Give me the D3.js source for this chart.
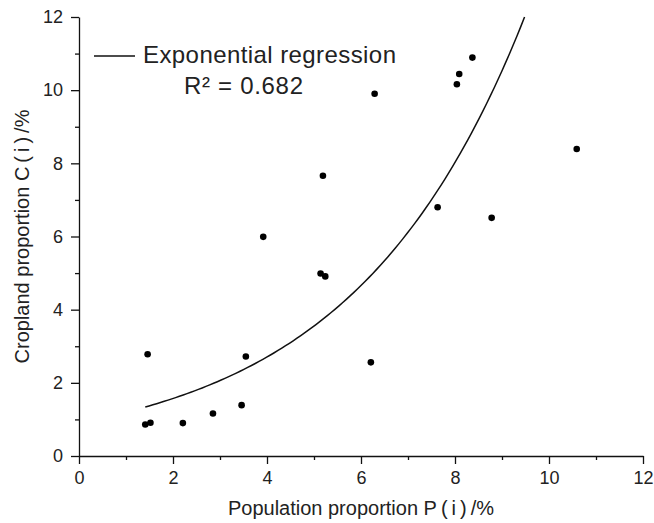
<!DOCTYPE html>
<html>
<head>
<meta charset="utf-8">
<script src="https://cdn.jsdelivr.net/npm/d3@7"></script>
<style>
  body { margin: 0; background: #fff; }
  svg text { font-family: "Liberation Sans", Arial, sans-serif; fill: #222; }
</style>
</head>
<body>
<div id="chart"></div>
<script>
// population proportion P(i) / cropland proportion C(i), in %
const popValues = [1.41, 1.52, 2.21, 2.85, 3.46, 1.46, 3.55, 3.92, 5.19, 5.14, 5.24,
                   10.59, 7.63, 8.78, 6.21, 6.29, 8.37, 8.09, 8.04];
const cropValues = [0.86, 0.91, 0.90, 1.16, 1.39, 2.78, 2.72, 5.99, 7.66, 4.99, 4.91,
                    8.39, 6.80, 6.51, 2.56, 9.90, 10.89, 10.44, 10.16];

// exponential regression y = a * exp(b * x), drawn between fitStart and fitEnd
const fitA = 0.913;
const fitB = 0.2717;
const fitStart = 1.41;
const fitEnd = 9.48;
const legendLabel = "Exponential regression";
const r2Label = "R² = 0.682";

const majorTicks = [0, 2, 4, 6, 8, 10, 12];
const minorTicks = [1, 3, 5, 7, 9, 11];

const svgWidth = 654, svgHeight = 523;
const margin = { top: 17, right: 11, bottom: 67, left: 79 };
const width = svgWidth - margin.left - margin.right,
      height = svgHeight - margin.top - margin.bottom;

const svg = d3.select("#chart").append("svg")
  .attr("width", svgWidth)
  .attr("height", svgHeight);

const g = svg.append("g")
  .attr("transform", "translate(" + margin.left + "," + margin.top + ")");

const x = d3.scaleLinear().domain([0, 12]).range([0, width]);
const y = d3.scaleLinear().domain([0, 12]).range([height, 0]);

// minor ticks first, then major axes on top
g.append("g")
  .attr("transform", "translate(0," + height + ")")
  .call(d3.axisBottom(x).tickValues(minorTicks).tickSize(4).tickFormat(""))
  .call(a => a.select(".domain").remove());
g.append("g")
  .call(d3.axisLeft(y).tickValues(minorTicks).tickSize(4).tickFormat(""))
  .call(a => a.select(".domain").remove());

const xAxis = g.append("g")
  .attr("transform", "translate(0," + height + ")")
  .call(d3.axisBottom(x).tickValues(majorTicks).tickSize(8).tickSizeOuter(0).tickPadding(7));
const yAxis = g.append("g")
  .call(d3.axisLeft(y).tickValues(majorTicks).tickSize(8).tickSizeOuter(0).tickPadding(8));

g.selectAll(".tick line, .domain").attr("stroke", "#111").attr("stroke-width", 1.3);
[xAxis, yAxis].forEach(a => a.selectAll("text")
  .style("font-size", "18px")
  .style("font-family", "'Liberation Sans', Arial, sans-serif")
  .attr("fill", "#222"));

// regression curve
const curveXs = d3.range(0, 101).map(i => fitStart + (fitEnd - fitStart) * i / 100);
const line = d3.line()
  .x(d => x(d))
  .y(d => y(fitA * Math.exp(fitB * d)));
g.append("path")
  .datum(curveXs)
  .attr("fill", "none")
  .attr("stroke", "#111")
  .attr("stroke-width", 1.5)
  .attr("d", line);

// points
g.selectAll("circle.pt")
  .data(popValues.map((p, i) => [p, cropValues[i]]))
  .enter().append("circle")
  .attr("class", "pt")
  .attr("cx", d => x(d[0]))
  .attr("cy", d => y(d[1]))
  .attr("r", 3.3)
  .attr("fill", "#000");

// legend
g.append("line")
  .attr("x1", 94 - margin.left).attr("x2", 135 - margin.left)
  .attr("y1", 56 - margin.top).attr("y2", 56 - margin.top)
  .attr("stroke", "#111").attr("stroke-width", 1.3);
g.append("text")
  .attr("x", 143 - margin.left).attr("y", 63 - margin.top)
  .attr("textLength", 253)
  .style("font-size", "24px")
  .text(legendLabel);
g.append("text")
  .attr("x", 184 - margin.left).attr("y", 94 - margin.top)
  .attr("textLength", 119)
  .style("font-size", "24px")
  .text(r2Label);

// axis titles
svg.append("text")
  .attr("x", margin.left + width / 2)
  .attr("y", 515)
  .attr("text-anchor", "middle")
  .style("font-size", "20px")
  .text("Population proportion P\u2009(\u2009i\u2009)\u2009/%");

svg.append("text")
  .attr("transform", "translate(29," + (margin.top + height / 2) + ") rotate(-90)")
  .attr("text-anchor", "middle")
  .style("font-size", "20px")
  .text("Cropland proportion C\u2009(\u2009i\u2009)\u2009/%");
</script>
</body>
</html>
